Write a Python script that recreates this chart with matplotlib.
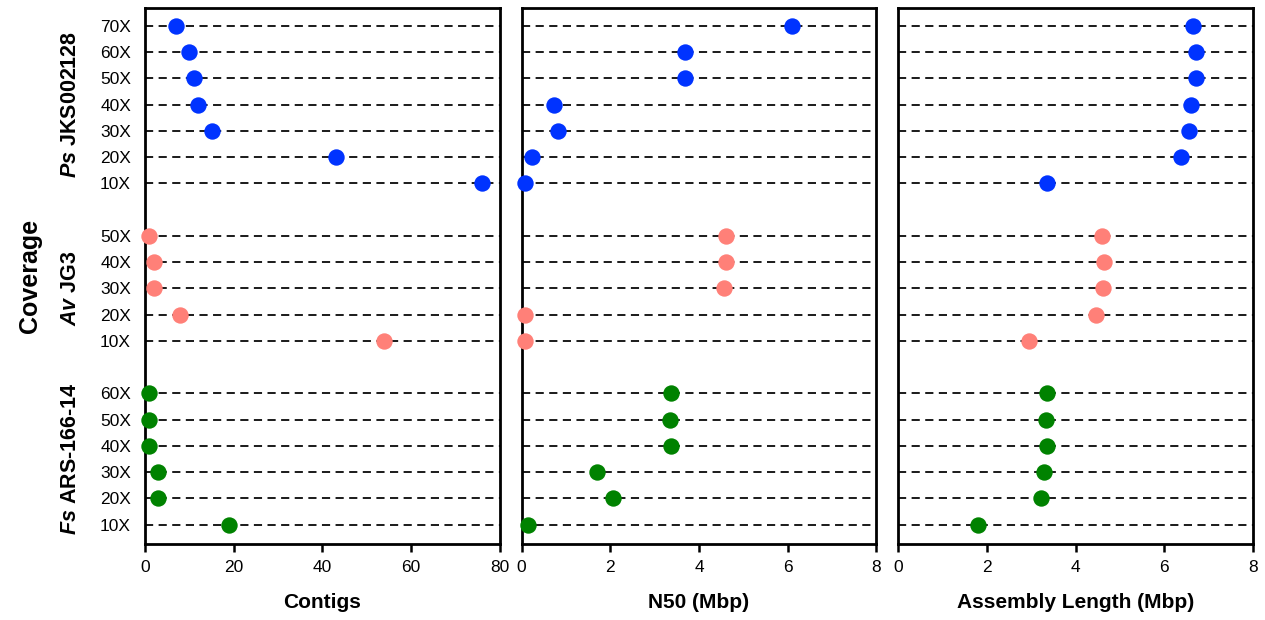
import matplotlib
matplotlib.use('Agg')
import matplotlib.pyplot as plt

# coverage levels per strain (top to bottom)
cov_ps = ['70X', '60X', '50X', '40X', '30X', '20X', '10X']
cov_av = ['50X', '40X', '30X', '20X', '10X']
cov_fs = ['60X', '50X', '40X', '30X', '20X', '10X']

strain_names = [r'$\mathit{Ps}$ JKS002128', r'$\mathit{Av}$ JG3', r'$\mathit{Fs}$ ARS-166-14']
strain_colors = ['#0033ff', '#ff8078', '#008200']

# contigs
contigs_ps = [7, 10, 11, 12, 15, 43, 76]
contigs_av = [1, 2, 2, 8, 54]
contigs_fs = [1, 1, 1, 3, 3, 19]

# N50 (Mbp)
n50_ps = [6.09, 3.69, 3.68, 0.72, 0.81, 0.23, 0.07]
n50_av = [4.60, 4.61, 4.57, 0.08, 0.08]
n50_fs = [3.37, 3.35, 3.37, 1.69, 2.05, 0.14]

# assembly length (Mbp)
asm_ps = [6.65, 6.71, 6.72, 6.61, 6.56, 6.38, 3.36]
asm_av = [4.59, 4.65, 4.61, 4.45, 2.95]
asm_fs = [3.36, 3.33, 3.35, 3.28, 3.22, 1.79]

panels = [
    ('Contigs', [contigs_ps, contigs_av, contigs_fs], (0, 80), [0, 20, 40, 60, 80]),
    ('N50 (Mbp)', [n50_ps, n50_av, n50_fs], (0, 8), [0, 2, 4, 6, 8]),
    ('Assembly Length (Mbp)', [asm_ps, asm_av, asm_fs], (0, 8), [0, 2, 4, 6, 8]),
]

plt.rcParams['font.family'] = ['Liberation Sans', 'DejaVu Sans']
plt.rcParams['mathtext.fontset'] = 'custom'
plt.rcParams['mathtext.it'] = 'Liberation Sans:italic:bold'
plt.rcParams['mathtext.rm'] = 'Liberation Sans:bold'

# row positions: one empty slot between strains
groups = [cov_ps, cov_av, cov_fs]
ypos = []
pos = 0
for g in groups:
    ypos.append(list(range(pos, pos + len(g))))
    pos += len(g) + 1
all_y = [y for ys in ypos for y in ys]
all_lab = [c for g in groups for c in g]

fig, axes = plt.subplots(1, 3, figsize=(12.65, 6.2), dpi=100, sharey=True)
fig.subplots_adjust(left=145/1265, right=1253/1265, top=1-8/620, bottom=1-544/620, wspace=0.062)

for ax, (xlabel, series, xlim, xticks) in zip(axes, panels):
    for ys, vals, col in zip(ypos, series, strain_colors):
        ax.plot(vals, ys, 'o', color=col, markersize=11.8, markeredgewidth=0,
                clip_on=False, zorder=3)
    for y in all_y:
        ax.axhline(y, color='#1a1a1a', lw=1.4, dashes=(4.2, 2.8), zorder=1)
    ax.set_xlim(*xlim)
    ax.set_xticks(xticks)
    ax.set_ylim(all_y[-1] + 0.74, -0.68)
    ax.set_yticks(all_y)
    ax.set_xlabel(xlabel, fontsize=15, fontweight='bold', labelpad=13)
    for s in ax.spines.values():
        s.set_linewidth(2)
    ax.tick_params(axis='x', length=5.5, width=1.8, labelsize=12.5, pad=6)
    ax.tick_params(axis='y', length=0, labelsize=12.5, pad=10)

axes[0].set_yticklabels(all_lab)

# strain labels
for ys, name in zip(ypos, strain_names):
    yc = (ys[0] + ys[-1]) / 2
    axes[0].text(-0.21, yc, name, transform=axes[0].get_yaxis_transform(),
                 rotation=90, ha='center', va='center', fontsize=15.5, fontweight='bold')

fig.text(30/1265, 1 - 276/620, 'Coverage', rotation=90, ha='center', va='center',
         fontsize=18, fontweight='bold')

fig.savefig('out.png', dpi=100)
